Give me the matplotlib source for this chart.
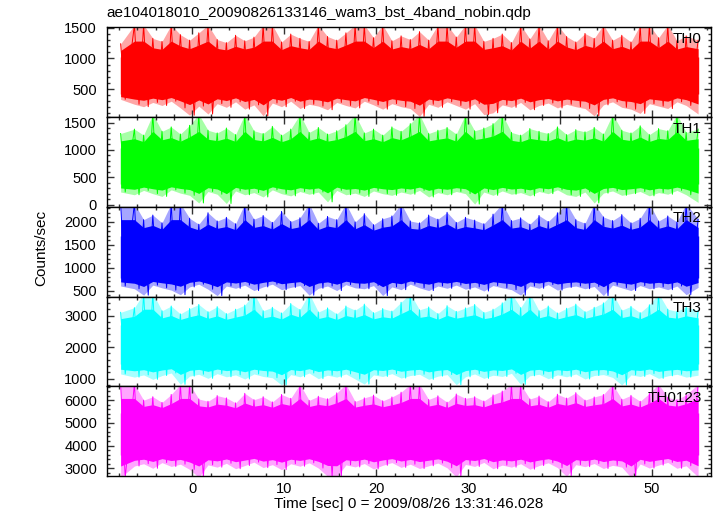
import numpy as np
import matplotlib
matplotlib.use("Agg")
import matplotlib.pyplot as plt
from matplotlib.ticker import MultipleLocator

plt.rcParams['font.family'] = ['Liberation Sans', 'DejaVu Sans']

title = "ae104018010_20090826133146_wam3_bst_4band_nobin.qdp"
bands = ["TH0", "TH1", "TH2", "TH3", "TH0123"]
colors = ["#ff0000", "#00ff00", "#0000ff", "#00ffff", "#ff00ff"]

# data runs from -7.8 to 55.0 s, read as one max / one min per second
t_first = -7.8
t_last = 55.0

# per-second upper extremes (counts/sec)
th0_hi = [1240, 1550, 1550, 1330, 1280, 1550, 1390, 1300, 1420, 1550, 1310, 1260, 1380, 1290, 1350, 1550,
          1550, 1270, 1400, 1330, 1280, 1550, 1360, 1300, 1420, 1550, 1550, 1340, 1550, 1290, 1370, 1310,
          1440, 1300, 1550, 1550, 1350, 1550, 1550, 1280, 1330, 1400, 1260, 1550, 1320, 1550, 1290, 1550,
          1360, 1270, 1410, 1330, 1550, 1300, 1380, 1270, 1550, 1550, 1340, 1550, 1290, 1370, 1300]
th1_hi = [1300, 1380, 1270, 1650, 1340, 1420, 1290, 1450, 1650, 1360, 1310, 1400, 1280, 1650, 1350, 1300,
          1430, 1270, 1380, 1650, 1320, 1410, 1290, 1350, 1460, 1650, 1310, 1380, 1270, 1420, 1340, 1480,
          1650, 1300, 1360, 1410, 1290, 1650, 1350, 1400, 1480, 1650, 1320, 1270, 1390, 1340, 1300, 1420,
          1280, 1370, 1330, 1410, 1290, 1650, 1360, 1310, 1440, 1280, 1390, 1350, 1650, 1320, 1380]
th2_hi = [2400, 2400, 2050, 2150, 1980, 2400, 2400, 2080, 1950, 2200, 2020, 2100, 1960, 2400, 2060, 2140,
          1990, 2230, 2010, 2090, 2400, 1970, 2120, 2050, 2400, 2000, 2180, 1940, 2070, 2130, 2400, 2020,
          1980, 2150, 2060, 2210, 1990, 2100, 2040, 1960, 2170, 2400, 2030, 2090, 1950, 2140, 2010, 2200,
          2400, 2050, 1970, 2400, 2110, 2030, 2160, 1980, 2080, 2400, 2020, 2130, 2000, 2400, 2060]
th3_hi = [3100, 3250, 3700, 3700, 3150, 3300, 3050, 3220, 3350, 3120, 3280, 3060, 3200, 3330, 3700, 3150,
          3260, 3080, 3380, 3190, 3700, 3110, 3240, 3050, 3300, 3170, 3360, 3090, 3220, 3140, 3420, 3700,
          3180, 3270, 3060, 3310, 3130, 3240, 3350, 3100, 3200, 3400, 3700, 3250, 3700, 3150, 3300, 3080,
          3230, 3360, 3120, 3260, 3400, 3700, 3170, 3290, 3090, 3340, 3700, 3200, 3130, 3280, 3150]
th0123_hi = [6700, 6700, 6000, 6150, 5900, 6250, 6700, 6700, 6050, 5950, 6200, 6100, 5880, 6300, 6020, 6150,
             5920, 6250, 6080, 6700, 5990, 6170, 6060, 6320, 6700, 5940, 6100, 6220, 5970, 6140, 6350, 6700,
             6700, 6030, 6190, 5910, 6270, 6080, 6150, 5960, 6230, 6400, 6700, 6700, 6050, 6180, 5930, 6260,
             6090, 6330, 6000, 6140, 6250, 6700, 6040, 6210, 5950, 6300, 6700, 6120, 6020, 6240, 6700]

# per-second lower extremes
th0_lo = [330, 250, 210, 280, 230, 300, 190, 70, 220, 90, 260, 200, 290, 170, 240, 60,
          270, 210, 300, 180, 250, 220, 160, 280, 230, 190, 300, 240, 170, 260, 210, 180,
          50, 250, 200, 290, 230, 170, 260, 80, 110, 240, 200, 280, 160, 230, 270, 190,
          250, 210, 180, 60, 240, 290, 200, 170, 100, 260, 220, 180, 290, 230, 90]
th1_lo = [230, 180, 260, 200, 150, 270, 210, 170, 30, 240, 190, 20, 250, 180, 220, 140,
          270, 200, 160, 240, 190, 230, 50, 260, 180, 210, 150, 250, 200, 170, 230, 190,
          260, 140, 220, 180, 240, 200, 10, 230, 170, 250, 190, 220, 160, 240, 200, 270,
          180, 150, 230, 30, 210, 250, 170, 200, 240, 160, 220, 190, 260, 180, 40]
th2_lo = [600, 540, 400, 620, 560, 510, 410, 580, 640, 530, 390, 600, 550, 620, 500, 580,
          640, 520, 570, 610, 400, 550, 600, 500, 630, 560, 540, 610, 390, 580, 520, 640,
          560, 500, 600, 550, 620, 530, 580, 490, 610, 560, 520, 400, 600, 550, 630, 510,
          570, 600, 540, 590, 390, 620, 560, 500, 610, 540, 580, 520, 600, 410, 570]
th3_lo = [1150, 1050, 1120, 980, 1100, 1180, 820, 1080, 1140, 1010, 1160, 1060, 1120, 990, 1150, 1070,
          1030, 800, 1130, 1060, 1180, 1000, 1110, 1050, 1150, 990, 830, 1120, 1070, 1160, 1020, 1100,
          1140, 980, 1080, 1130, 810, 1060, 1150, 1010, 1110, 1070, 1170, 820, 1090, 1140, 1000, 1120,
          1060, 1150, 990, 1100, 1130, 1040, 800, 1120, 1070, 1160, 1010, 1090, 1140, 1050, 1110]
th0123_lo = [2600, 3100, 3200, 3000, 3250, 3080, 3180, 2950, 2600, 3150, 3050, 3220, 2980, 3120, 3270, 3030,
             3160, 2940, 3200, 3090, 3240, 3010, 2650, 2620, 3150, 3060, 3210, 2970, 3130, 3250, 3040, 3180,
             2990, 3110, 3230, 3020, 2620, 3170, 3080, 3260, 2980, 3140, 3050, 3200, 2960, 3120, 3240, 3030,
             2640, 3160, 3070, 3210, 2990, 3130, 3050, 2600, 3190, 3010, 3140, 3260, 3000, 3110, 2620]

# range where the trace is dense (solid colour)
core_lo = [420, 380, 780, 1450, 3600]
core_hi = [1020, 1030, 1700, 2700, 5450]

hi_all = [th0_hi, th1_hi, th2_hi, th3_hi, th0123_hi]
lo_all = [th0_lo, th1_lo, th2_lo, th3_lo, th0123_lo]

ylims = [(40, 1510), (-40, 1600), (370, 2330), (760, 3600), (2660, 6610)]
ymajor = [500, 500, 500, 1000, 1000]
yminor = [100, 100, 100, 200, 200]

fig = plt.figure(figsize=(7.17, 5.16), dpi=100)
fig.subplots_adjust(left=0.149, right=0.9916, top=0.947, bottom=0.0775, hspace=0)
axes = fig.subplots(5, 1, sharex=True)

for i, ax in enumerate(axes):
    hi = np.array(hi_all[i], dtype=float)
    lo = np.array(lo_all[i], dtype=float)
    t = t_first + 0.5 + np.arange(len(hi))
    t[0], t[-1] = t_first, t_last
    c = colors[i]

    # pale envelope out to the extremes, solid body halfway out from the core
    ax.fill_between(t, lo, hi, color=c, alpha=0.35, lw=0)
    ax.fill_between(t, (lo + core_lo[i]) / 2, (hi + core_hi[i]) / 2, color=c, lw=0)
    # spikes: trace alternating max / min
    tz = np.empty(2 * len(hi))
    yz = np.empty(2 * len(hi))
    tz[0::2], tz[1::2] = t, t + 0.5
    yz[0::2], yz[1::2] = hi, lo
    keep = tz <= t_last
    ax.plot(tz[keep], yz[keep], color=c, lw=0.7)
    ax.vlines([t_first, t_last], core_lo[i], core_hi[i], color=c, lw=1)

    ax.set_xlim(-9.3, 56.4)
    ax.set_ylim(*ylims[i])
    ax.xaxis.set_major_locator(MultipleLocator(10))
    ax.xaxis.set_minor_locator(MultipleLocator(2))
    ax.yaxis.set_major_locator(MultipleLocator(ymajor[i]))
    ax.yaxis.set_minor_locator(MultipleLocator(yminor[i]))
    ax.tick_params(which='both', direction='in', top=True, right=True, width=1, color='#333333')
    ax.tick_params(which='major', length=5, labelsize=10.5, pad=7)
    ax.tick_params(which='minor', length=2.5)
    ax.tick_params(axis='x', pad=4)
    for sp in ax.spines.values():
        sp.set_linewidth(1.0)
    ax.text(0.985, 0.95, bands[i], transform=ax.transAxes, ha='right', va='top', fontsize=11)

axes[-1].set_xlabel("Time [sec] 0 = 2009/08/26 13:31:46.028", fontsize=11, labelpad=1)
fig.text(0.058, 0.52, "Counts/sec", rotation=90, ha='center', va='center', fontsize=11)
fig.text(0.149, 0.975, title, ha='left', va='center', fontsize=11)

fig.savefig("out.png", dpi=100)
